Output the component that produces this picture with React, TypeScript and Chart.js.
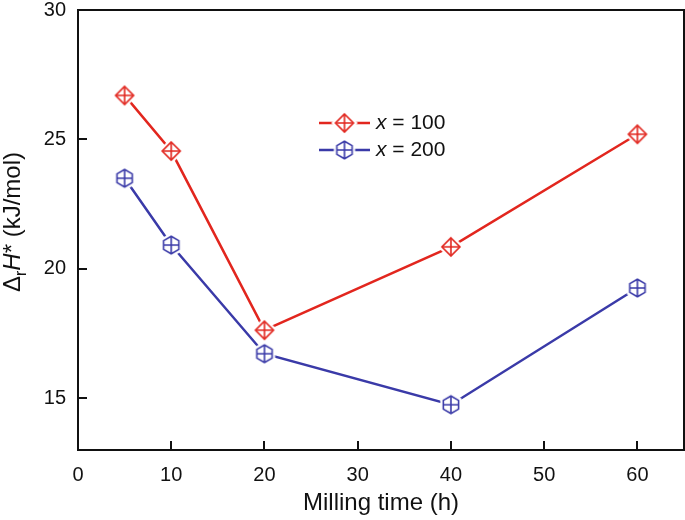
import React, { useEffect, useRef } from "react";
import { Chart, registerables } from "chart.js";

Chart.register(...registerables);

// ---- data ----
const millingTime = [5, 10, 20, 40, 60];
const dH_x100 = [26.7, 24.55, 17.63, 20.85, 25.2];
const dH_x200 = [23.5, 20.92, 16.72, 14.75, 19.26];
const seriesValues = ["100", "200"];
const xTicks = [0, 10, 20, 30, 40, 50, 60];
const yTicks = [15, 20, 25, 30];

const RED = "#e2261e";
const BLUE = "#3a3aa8";
const FONT = "'Liberation Sans', Arial, Helvetica, sans-serif";
const TEXT = "#111";

function makeMarker(shape: "diamond" | "hex", color: string): HTMLCanvasElement {
  const s = 30;
  const c = document.createElement("canvas");
  c.width = s;
  c.height = s;
  const ctx = c.getContext("2d")!;
  const m = s / 2;
  const r = shape === "diamond" ? 9 : 8.8;
  const hx = shape === "diamond" ? r : r * Math.cos(Math.PI / 6);
  const path = () => {
    ctx.beginPath();
    if (shape === "diamond") {
      ctx.moveTo(m, m - r);
      ctx.lineTo(m + r, m);
      ctx.lineTo(m, m + r);
      ctx.lineTo(m - r, m);
    } else {
      for (let i = 0; i < 6; i++) {
        const a = -Math.PI / 2 + (i * Math.PI) / 3;
        const px = m + r * Math.cos(a);
        const py = m + r * Math.sin(a);
        if (i === 0) ctx.moveTo(px, py);
        else ctx.lineTo(px, py);
      }
    }
    ctx.closePath();
  };
  path();
  ctx.fillStyle = "#fff";
  ctx.fill();
  ctx.lineWidth = 6;
  ctx.strokeStyle = "#fff";
  ctx.stroke();
  path();
  ctx.lineWidth = 1.6;
  ctx.strokeStyle = color;
  ctx.stroke();
  ctx.beginPath();
  ctx.moveTo(m, m - r);
  ctx.lineTo(m, m + r);
  ctx.moveTo(m - hx, m);
  ctx.lineTo(m + hx, m);
  ctx.stroke();
  return c;
}

export default function App() {
  const ref = useRef<HTMLCanvasElement>(null);

  useEffect(() => {
    if (!ref.current) return;
    const redMarker = makeMarker("diamond", RED);
    const blueMarker = makeMarker("hex", BLUE);

    const decor = {
      id: "decor",
      afterDraw(chart: any) {
        const { ctx, chartArea } = chart;
        const { left, right, top, bottom } = chartArea;
        const xs = chart.scales.x;
        const ys = chart.scales.y;
        ctx.save();
        ctx.strokeStyle = "#111";
        ctx.lineWidth = 2;
        ctx.strokeRect(left, top, right - left, bottom - top);
        ctx.beginPath();
        xTicks.forEach((v) => {
          const px = Math.round(xs.getPixelForValue(v));
          ctx.moveTo(px, bottom);
          ctx.lineTo(px, bottom - 9);
        });
        yTicks.forEach((v) => {
          const py = Math.round(ys.getPixelForValue(v));
          ctx.moveTo(left, py);
          ctx.lineTo(left + 9, py);
        });
        ctx.stroke();

        // x title
        ctx.fillStyle = TEXT;
        ctx.font = `24px ${FONT}`;
        ctx.textAlign = "center";
        ctx.textBaseline = "alphabetic";
        ctx.fillText("Milling time (h)", (left + right) / 2, 510);

        // y title with subscript / italic
        const parts = [
          { t: "Δ", f: `24px ${FONT}`, dy: 0 },
          { t: "r", f: `16px ${FONT}`, dy: 6 },
          { t: "H", f: `italic 24px ${FONT}`, dy: 0 },
          { t: "*", f: `24px ${FONT}`, dy: 0 },
          { t: " (kJ/mol)", f: `24px ${FONT}`, dy: 0 },
        ];
        let total = 0;
        const widths = parts.map((p) => {
          ctx.font = p.f;
          const w = ctx.measureText(p.t).width;
          total += w;
          return w;
        });
        ctx.translate(20, 222);
        ctx.rotate(-Math.PI / 2);
        ctx.textAlign = "left";
        let cx = -total / 2;
        parts.forEach((p, i) => {
          ctx.font = p.f;
          ctx.fillText(p.t, cx, p.dy);
          cx += widths[i];
        });
        ctx.setTransform(1, 0, 0, 1, 0, 0);

        // legend
        const items = [
          { color: RED, marker: redMarker, y: 123, label: seriesValues[0] },
          { color: BLUE, marker: blueMarker, y: 150, label: seriesValues[1] },
        ];
        items.forEach((it) => {
          ctx.strokeStyle = it.color;
          ctx.lineWidth = 2.5;
          ctx.beginPath();
          ctx.moveTo(319, it.y);
          ctx.lineTo(370, it.y);
          ctx.stroke();
          ctx.drawImage(it.marker, 344.5 - it.marker.width / 2, it.y - it.marker.height / 2);
          ctx.fillStyle = TEXT;
          ctx.textBaseline = "middle";
          ctx.textAlign = "left";
          ctx.font = `italic 21px ${FONT}`;
          ctx.fillText("x", 376, it.y);
          const w = ctx.measureText("x").width;
          ctx.font = `21px ${FONT}`;
          ctx.fillText(" = " + it.label, 376 + w, it.y);
        });
        ctx.restore();
      },
    };

    const tickFont = { family: FONT, size: 20 };

    const chart = new Chart(ref.current, {
      type: "line",
      data: {
        datasets: [
          {
            label: "x = " + seriesValues[0],
            data: millingTime.map((t, i) => ({ x: t, y: dH_x100[i] })),
            borderColor: RED,
            backgroundColor: RED,
            borderWidth: 2.5,
            pointStyle: redMarker as any,
            pointRadius: 9,
            tension: 0,
          },
          {
            label: "x = " + seriesValues[1],
            data: millingTime.map((t, i) => ({ x: t, y: dH_x200[i] })),
            borderColor: BLUE,
            backgroundColor: BLUE,
            borderWidth: 2.5,
            pointStyle: blueMarker as any,
            pointRadius: 9,
            tension: 0,
          },
        ],
      },
      options: {
        animation: false,
        responsive: false,
        maintainAspectRatio: false,
        layout: { autoPadding: false, padding: { top: 10, right: 1, left: 0, bottom: 0 } },
        plugins: { legend: { display: false }, tooltip: { enabled: false } },
        scales: {
          x: {
            type: "linear",
            min: 0,
            max: 65,
            afterBuildTicks: (s: any) => {
              s.ticks = xTicks.map((v) => ({ value: v }));
            },
            afterFit: (s: any) => {
              s.height = 70;
              s.paddingLeft = 0;
              s.paddingRight = 0;
            },
            grid: { display: false, drawTicks: false },
            border: { display: false },
            ticks: { padding: 13, font: tickFont, color: TEXT, maxRotation: 0, autoSkip: false },
          },
          y: {
            type: "linear",
            min: 13,
            max: 30,
            afterBuildTicks: (s: any) => {
              s.ticks = yTicks.map((v) => ({ value: v }));
            },
            afterFit: (s: any) => {
              s.width = 78;
              s.paddingTop = 0;
              s.paddingBottom = 0;
            },
            grid: { display: false, drawTicks: false },
            border: { display: false },
            ticks: { padding: 12, font: tickFont, color: TEXT, autoSkip: false },
          },
        },
      },
      plugins: [decor],
    } as any);

    return () => chart.destroy();
  }, []);

  return (
    <div style={{ position: "fixed", left: 0, top: 0, width: 685, height: 520, background: "#fff" }}>
      <canvas ref={ref} width={685} height={520} style={{ width: 685, height: 520 }} />
    </div>
  );
}
